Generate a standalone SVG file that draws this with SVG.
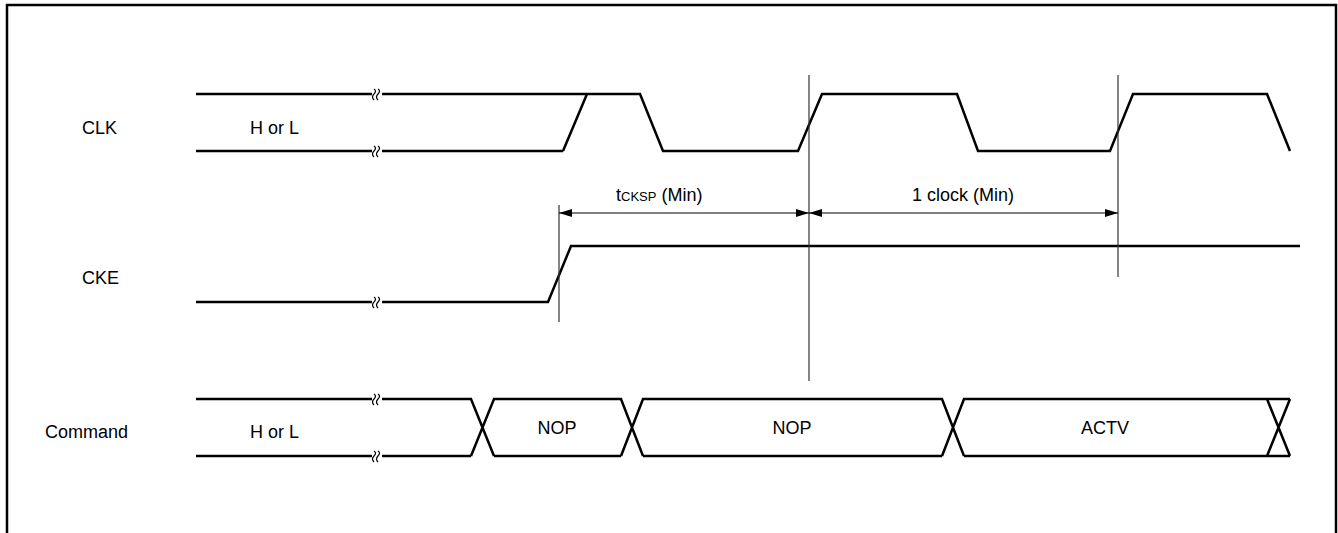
<svg xmlns="http://www.w3.org/2000/svg" width="1338" height="533" viewBox="0 0 1338 533">
<style>
.sig{fill:none;stroke:#000;stroke-width:2.5;stroke-linejoin:miter}
.brk{fill:none;stroke:#000;stroke-width:1.2}
.guide{fill:none;stroke:#333;stroke-width:1.2}
.dim{fill:none;stroke:#000;stroke-width:1.2}
text{font-family:"Liberation Sans",Arial,sans-serif;font-size:18px;fill:#000}
.c{text-anchor:middle}
</style>
<defs>
<marker id="ah" markerWidth="13" markerHeight="8" refX="13" refY="4" orient="auto-start-reverse" markerUnits="userSpaceOnUse">
<path d="M0,0 L13,4 L0,8 Z" fill="#000"/>
</marker>
</defs>
<rect width="1338" height="533" fill="#fff"/>
<path d="M7,540 V5 H1336 V540" fill="none" stroke="#000" stroke-width="2.5"/>

<g id="labels">
<text x="82" y="134">CLK</text>
<text x="82" y="284">CKE</text>
<text x="45" y="438">Command</text>
</g>

<g id="clk">
<path class="sig" d="M196,94 H372 M382,94 H587 M563,151 L587,94 H640 L663,151 H694 M196,151 H372 M382,151 H563 M663,151 H798 L822,94 H957 L978,151 H1110 L1133,94 H1267 L1290,151"/>
<path class="brk" d="M374,89 q3,2 0,5 q-3,3 0,6 M378,89 q3,2 0,5 q-3,3 0,6 M374,146 q3,2 0,5 q-3,3 0,6 M378,146 q3,2 0,5 q-3,3 0,6"/>
<text x="250" y="134">H or L</text>
</g>

<g id="cke">
<path class="sig" d="M196,302 H372 M382,302 H548 L571,246 H1300"/>
<path class="brk" d="M374,297 q3,2 0,5 q-3,3 0,6 M378,297 q3,2 0,5 q-3,3 0,6"/>
</g>

<g id="command">
<path class="sig" d="M196,399 H372 M382,399 H471 L494,456 M471,456 L494,399 H621 L643,456 M621,456 L643,399 H942 L964,456 M942,456 L964,399 H1267 L1290,456 M1267,456 L1290,399 M196,456 H372 M382,456 H471 M494,456 H621 M643,456 H942 M964,456 H1267 M1267,399 H1290 M1267,456 H1290"/>
<path class="brk" d="M374,394 q3,2 0,5 q-3,3 0,6 M378,394 q3,2 0,5 q-3,3 0,6 M374,451 q3,2 0,5 q-3,3 0,6 M378,451 q3,2 0,5 q-3,3 0,6"/>
<text x="250" y="438">H or L</text>
<text class="c" x="557" y="434">NOP</text>
<text class="c" x="792" y="434">NOP</text>
<text class="c" x="1105" y="434">ACTV</text>
</g>

<g id="connectors">
<line class="guide" x1="809" y1="75" x2="809" y2="381"/>
<line class="guide" x1="1118" y1="75" x2="1118" y2="277"/>
<line class="guide" x1="559" y1="205" x2="559" y2="322"/>
<line class="dim" x1="559" y1="213" x2="809" y2="213" marker-start="url(#ah)" marker-end="url(#ah)"/>
<line class="dim" x1="809" y1="213" x2="1118" y2="213" marker-start="url(#ah)" marker-end="url(#ah)"/>
<text x="616" y="201">t<tspan font-size="13">CKSP</tspan> (Min)</text>
<text class="c" x="963" y="201">1 clock (Min)</text>
</g>
</svg>
